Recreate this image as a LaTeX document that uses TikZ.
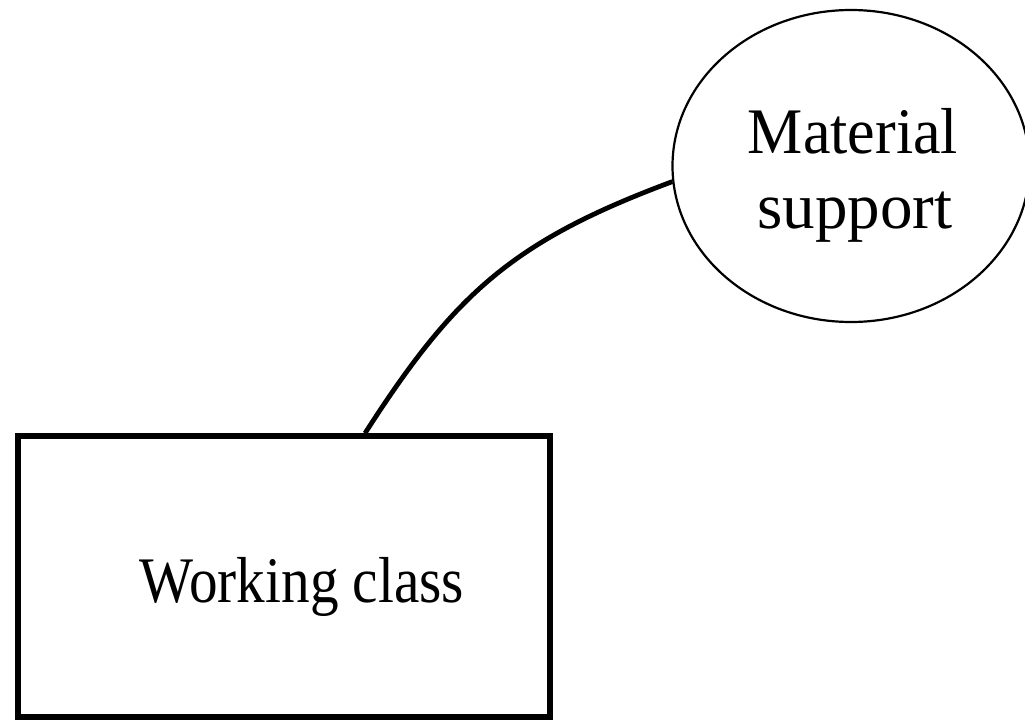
\documentclass[tikz,border=0pt]{standalone}
\usepackage{graphicx}
\usepackage{fontspec}
\setmainfont{Liberation Serif}
\usetikzlibrary{shapes.geometric}
\begin{document}
\begin{tikzpicture}[x=1pt,y=-1pt,
  classbox/.style={draw=black, line width=5.5pt, fill=white, rectangle,
    minimum width=532pt, minimum height=281pt, inner sep=0pt},
  supportblob/.style={draw=black, line width=2.2pt, fill=white, ellipse,
    minimum width=357pt, minimum height=312pt, inner sep=0pt},
  label/.style={inner sep=0pt, font=\fontsize{65}{75}\selectfont, anchor=base},
  link/.style={draw=black, line width=4.8pt}]
  \useasboundingbox (0,0) rectangle (1025,720);
  \fill[white] (0,0) rectangle (1025,720);

  % the shapes, then the curved link between them
  \node[classbox] (wc) at (284,576.5) {};
  \node[supportblob] (ms) at (851,166) {};
  \coordinate (wctop) at ([xshift=81pt]wc.north);
  \draw[link] (wctop) .. controls (455,293) and (513,241) .. (ms.185);

  \node[label] (wclabel) at (302,602) {\scalebox{0.88}[1]{Working class}};
  \node[label] (mslabel1) at (853,153) {\scalebox{0.955}[1]{Material}};
  \node[label] (mslabel2) at (855,228) {support};
\end{tikzpicture}
\end{document}
